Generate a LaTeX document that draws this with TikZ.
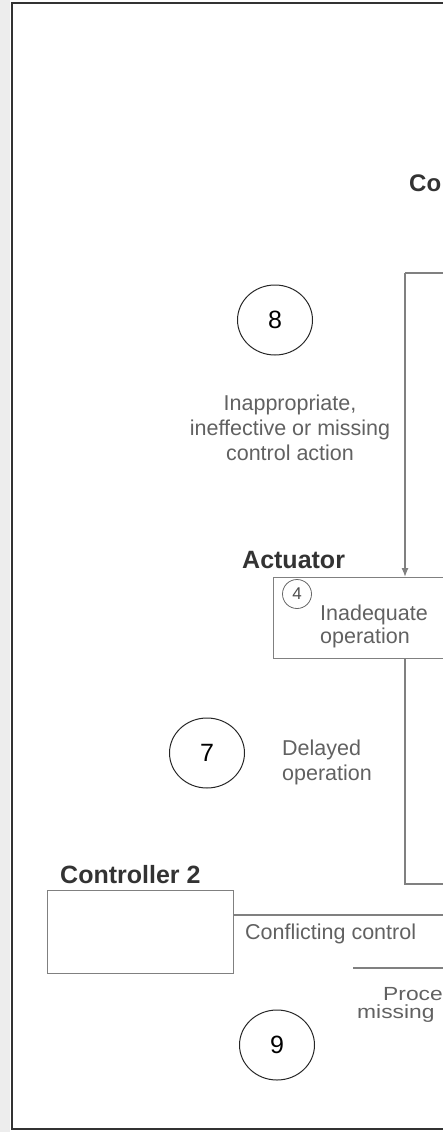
\documentclass[tikz,border=0pt]{standalone}
\usepackage{fontspec}
\setmainfont{Liberation Sans}
\usetikzlibrary{arrows.meta,shapes.geometric}

\begin{document}
\begin{tikzpicture}[x=1pt, y=-1pt,
    line/.style={draw=black!50, line width=1.3pt},
    box/.style={line, rectangle, inner sep=0pt, anchor=north west},
    lbl/.style={font=\fontsize{25}{27}\selectfont\bfseries, text=black!80, anchor=west, inner sep=0pt},
    note/.style={font=\fontsize{21.5}{25}\selectfont, text=black!62, align=center, inner sep=0pt},
    small/.style={note, font=\fontsize{19}{19}\selectfont, anchor=west},
    num/.style={ellipse, draw=black!85, line width=1pt, minimum width=75pt, minimum height=70pt, inner sep=0pt, font=\fontsize{25}{27}\selectfont},
    arrow/.style={line, -{Latex[length=9pt, width=7pt]}}
]
\useasboundingbox (0,0) rectangle (443,1132);
\fill[black!7] (0,0) rectangle (10,1132);
\clip (0,0) rectangle (443,1132);
\draw[black!80, line width=2.5pt] (470,3) -- (12,3) -- (12,1129) -- (470,1129);

% controller (top, only its corner shows)
\node[lbl, font=\fontsize{24}{26}\selectfont\bfseries] (ctrllbl) at (409,183) {Co};
\coordinate (ctrl) at (405,273);

% actuator
\node[lbl] (actlbl) at (242,560) {Actuator};
\node[box, minimum width=230pt, minimum height=81pt] (act) at (273,577) {};
\node[circle, draw=black!60, line width=0.8pt, minimum size=29pt, inner sep=0pt, font=\fontsize{17}{17}\selectfont, text=black!70] (four) at (297,594) {4};
\node[note, anchor=west] (inadq) at (320,615) {Inadequate};
\node[note, anchor=west] (inop) at (320,638) {operation};

% controller 2
\node[lbl] (c2lbl) at (60,875) {Controller 2};
\node[box, minimum width=186pt, minimum height=83pt] (c2) at (47,890) {};
\coordinate (c2out) at (470,915);
\node[note, anchor=west] (confl) at (245,934) {Conflicting control};
\coordinate (pin) at (353,968);
\node[small] (proc1) at (383,994) {\scalebox{1.2}[1]{Proce}};
\node[small] (proc2) at (357,1014) {\scalebox{1.2}[1]{missing}};

% numbered causes
\node[num] (n8) at (275,320) {8};
\node[note] (n8txt) at (290,428) {Inappropriate,\\ineffective or missing\\control action};
\node[num] (n7) at (207,753) {7};
\node[note, align=left, anchor=west] (n7txt) at (282,762) {Delayed\\operation};
\node[num] (n9) at (277,1045) {9};

% connectors
\coordinate (procin) at (470,884);
\draw[line] (470,273) -- (ctrl);
\draw[arrow] (ctrl) -- (ctrl |- act.north);
\draw[line] (act.south -| ctrl) |- (procin);
\draw[line] (c2.north east |- c2out) -- (c2out);
\draw[line] (pin) -- (470,968);
\end{tikzpicture}
\end{document}
